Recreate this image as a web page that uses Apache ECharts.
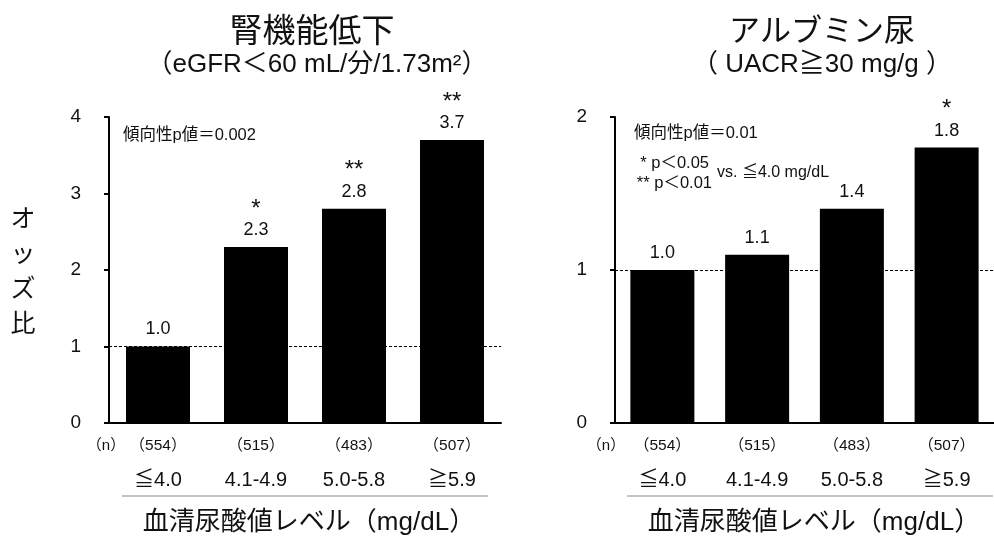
<!DOCTYPE html>
<html><head><meta charset="utf-8">
<script src="https://cdn.jsdelivr.net/npm/echarts/dist/echarts.min.js"></script>
<style>html,body{margin:0;padding:0;background:#fff}#c{width:994px;height:537px}</style>
</head><body><div id="c"></div>
<script>
// ---- data ----
const categories = ['≦4.0', '4.1-4.9', '5.0-5.8', '≧5.9'];
const nCounts = ['554', '515', '483', '507'];
const renalOR = [1.0, 2.3, 2.8, 3.7];
const renalStars = ['', '*', '**', '**'];
const albOR = [1.0, 1.1, 1.4, 1.8];
const albStars = ['', '', '', '*'];
const renalMax = 4;
const albMax = 2;
const refValue = 1;

const JP = '"Noto Sans CJK JP", sans-serif';
const LAT = '"Liberation Sans", "Noto Sans CJK JP", sans-serif';

const chart = echarts.init(document.getElementById('c'), null, {renderer: 'canvas'});

function xAxis(gi) {
  return {
    type: 'category', gridIndex: gi, data: categories,
    axisLine: {lineStyle: {color: '#000', width: 2}},
    axisTick: {show: false},
    axisLabel: {
      margin: 8, interval: 0,
      formatter: (v, i) => '{n|（' + nCounts[i] + '）}\n{c|' + v + '}',
      rich: {
        n: {fontSize: 15.5, lineHeight: 30, fontFamily: LAT, color: '#111'},
        c: {fontSize: 20, lineHeight: 38, fontFamily: LAT, color: '#111'}
      }
    }
  };
}
function yAxis(gi, max) {
  return {
    type: 'value', gridIndex: gi, min: 0, max: max, interval: 1,
    axisLine: {show: true, lineStyle: {color: '#000', width: 2}},
    axisTick: {show: true, length: 5, lineStyle: {color: '#000', width: 2}},
    axisLabel: {fontSize: 19, margin: 28, color: '#111', fontFamily: LAT},
    splitLine: {show: false}
  };
}
function barSeries(gi, data, stars) {
  return {
    type: 'bar', xAxisIndex: gi, yAxisIndex: gi, data: data, barWidth: 64,
    itemStyle: {color: '#000'},
    label: {
      show: true, position: 'top', distance: 7, color: '#111',
      formatter: p => (stars[p.dataIndex] ? '{s|' + stars[p.dataIndex] + '}\n' : '') + '{v|' + p.value.toFixed(1) + '}',
      rich: {
        s: {fontSize: 24, lineHeight: 22, fontFamily: LAT, color: '#111'},
        v: {fontSize: 18, lineHeight: 20, fontFamily: LAT, color: '#111'}
      }
    },
    markLine: {
      silent: true, symbol: 'none', label: {show: false},
      lineStyle: {type: [3, 2], color: '#000', width: 1},
      data: [{yAxis: refValue}]
    }
  };
}

const txt = (x, y, text, size, extra) => Object.assign({
  type: 'text', x: x, y: y,
  style: Object.assign({text: text, fontSize: size, fontFamily: LAT, fill: '#111', align: 'center', verticalAlign: 'middle'}, extra || {})
});

chart.setOption({
  animation: false,
  title: [
    {text: '腎機能低下', left: 307, top: 8, textAlign: 'center', textStyle: {fontSize: 33, fontWeight: 'normal', fontFamily: JP, color: '#111'}},
    {text: '（eGFR＜60 mL/分/1.73m²）', left: 312, top: 47, textAlign: 'center', textStyle: {fontSize: 26, fontWeight: 'normal', fontFamily: LAT, color: '#111'}},
    {text: 'アルブミン尿', left: 817, top: 9, textAlign: 'center', textStyle: {fontSize: 31, fontWeight: 'normal', fontFamily: JP, color: '#111'}},
    {text: '（ UACR≧30 mg/g ）', left: 817, top: 47, textAlign: 'center', textStyle: {fontSize: 26, fontWeight: 'normal', fontFamily: LAT, color: '#111'}}
  ],
  grid: [
    {left: 109, top: 117, width: 392, height: 306},
    {left: 615, top: 117, width: 390, height: 306}
  ],
  xAxis: [xAxis(0), xAxis(1)],
  yAxis: [yAxis(0, renalMax), yAxis(1, albMax)],
  series: [barSeries(0, renalOR, renalStars), barSeries(1, albOR, albStars)],
  graphic: [
    txt(23, 270, 'オ\nッ\nズ\n比', 25, {lineHeight: 35, fontFamily: JP}),
    txt(106, 446, '（n）', 15),
    txt(606, 446, '（n）', 15),
    txt(123, 135, '傾向性p値＝0.002', 16.5, {align: 'left'}),
    txt(634, 133, '傾向性p値＝0.01', 16.5, {align: 'left'}),
    txt(709, 163, '* p＜0.05', 16.5, {align: 'right'}),
    txt(712, 183, '** p＜0.01', 16.5, {align: 'right'}),
    txt(717, 173, 'vs. ≦4.0 mg/dL', 16, {align: 'left'}),
    {type: 'line', shape: {x1: 122, y1: 496, x2: 488, y2: 496}, style: {stroke: '#888', lineWidth: 1}},
    {type: 'line', shape: {x1: 627, y1: 496, x2: 993, y2: 496}, style: {stroke: '#888', lineWidth: 1}},
    txt(309, 523, '血清尿酸値レベル（mg/dL）', 26),
    txt(814, 523, '血清尿酸値レベル（mg/dL）', 26)
  ]
});
</script>
</body></html>
